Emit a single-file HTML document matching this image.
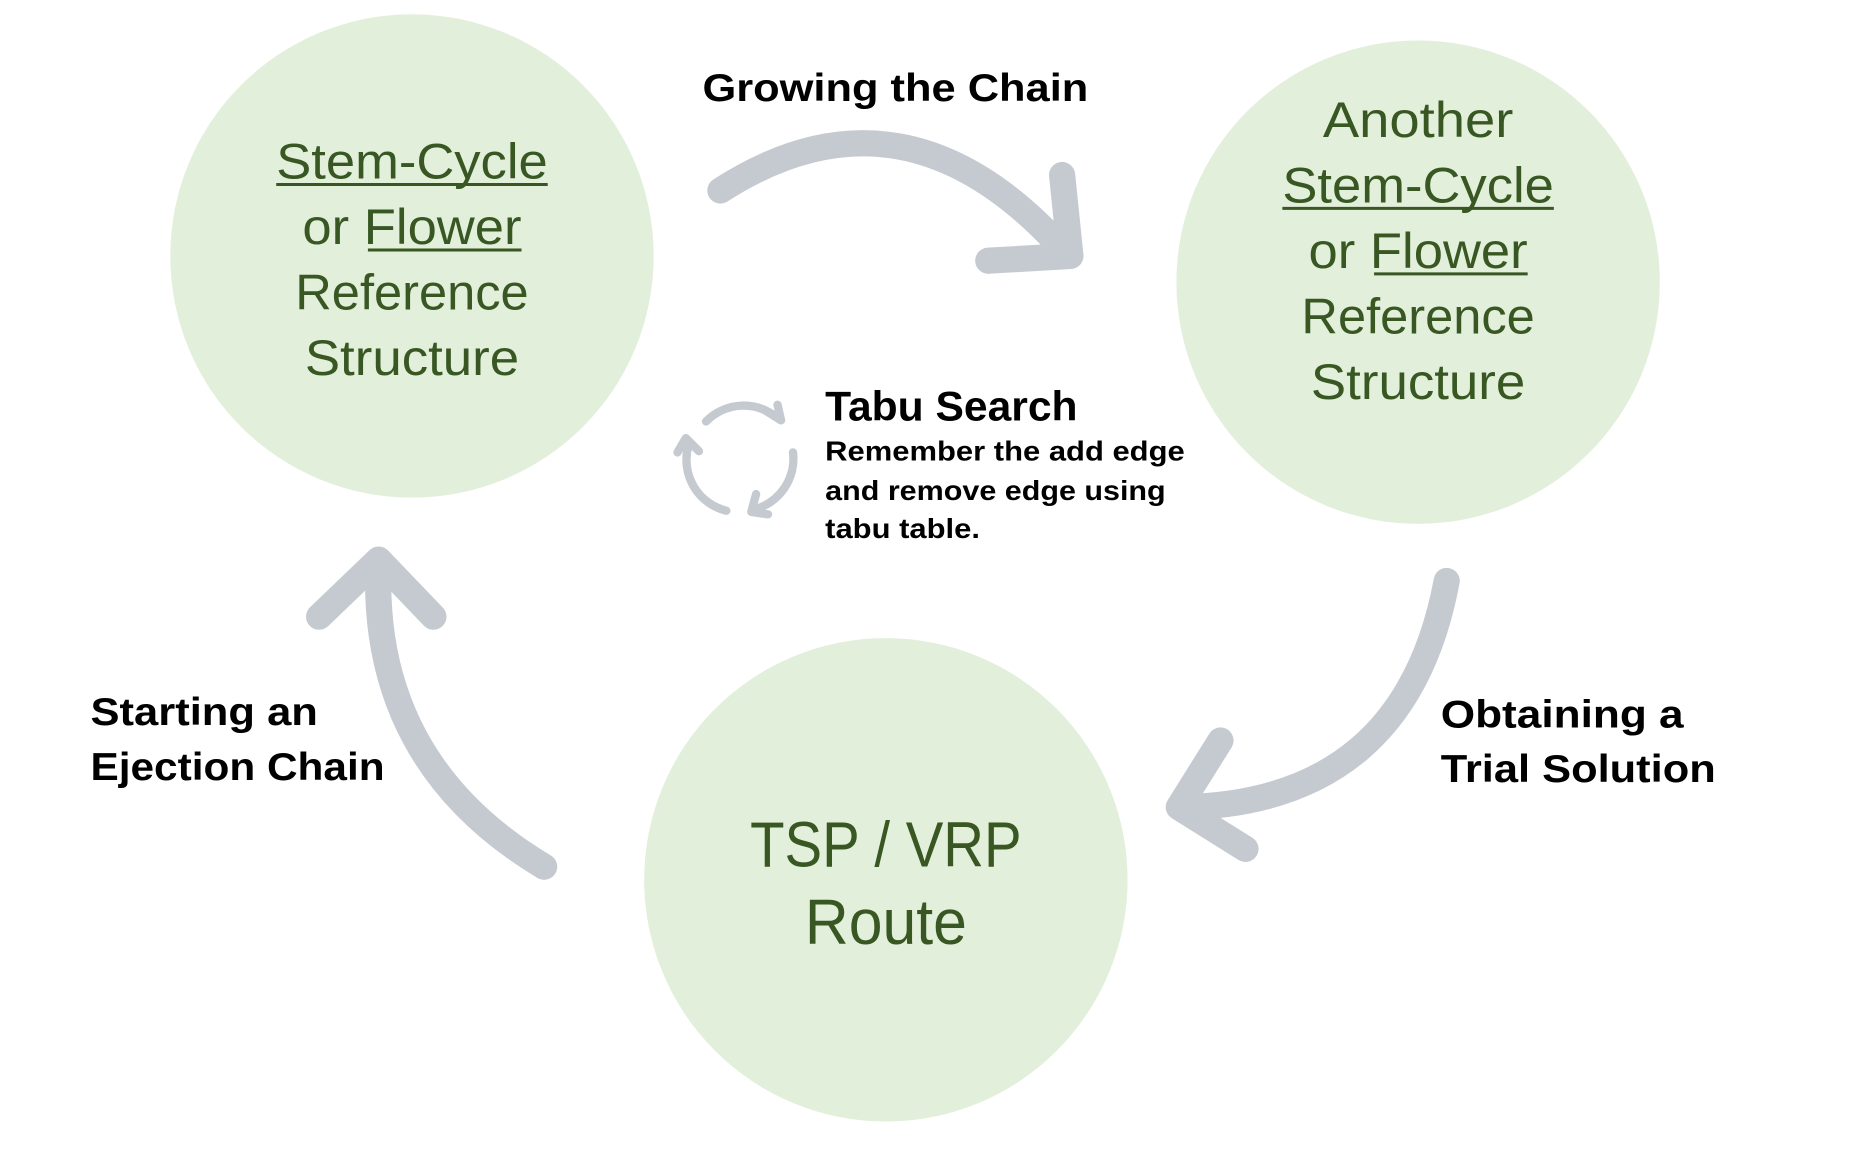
<!DOCTYPE html>
<html><head><meta charset="utf-8"><style>
html,body{margin:0;padding:0;background:#fff;}
svg{display:block}
.c{fill:#e2efda}
.g{font-family:"Liberation Sans","Noto Sans CJK SC",sans-serif;fill:#385723;font-size:42px;text-anchor:middle}
.b{font-family:"Liberation Sans","Noto Sans CJK SC",sans-serif;font-weight:bold;fill:#000}
.a{fill:none;stroke:#c5cad1;stroke-width:22;stroke-linecap:round;stroke-linejoin:round}
.i{fill:none;stroke:#c5cad1;stroke-width:7;stroke-linecap:round;stroke-linejoin:round}
.u{stroke:#385723;stroke-width:2.5}
</style></head><body>
<svg width="1867" height="1159" viewBox="0 0 1568 973.5" preserveAspectRatio="none" xmlns="http://www.w3.org/2000/svg">
<circle class="c" cx="346" cy="215" r="203"/>
<circle class="c" cx="1191" cy="237" r="203"/>
<circle class="c" cx="744" cy="739" r="203"/>

<text class="g" x="346" y="150" textLength="228" lengthAdjust="spacingAndGlyphs">Stem-Cycle</text>
<line class="u" x1="232" y1="155" x2="460" y2="155"/>
<text class="g" x="346" y="205" textLength="184" lengthAdjust="spacingAndGlyphs">or Flower</text>
<line class="u" x1="309" y1="210" x2="438" y2="210"/>
<text class="g" x="346" y="260" textLength="196" lengthAdjust="spacingAndGlyphs">Reference</text>
<text class="g" x="346" y="315" textLength="180" lengthAdjust="spacingAndGlyphs">Structure</text>

<text class="g" x="1191" y="115" textLength="160" lengthAdjust="spacingAndGlyphs">Another</text>
<text class="g" x="1191" y="170" textLength="228" lengthAdjust="spacingAndGlyphs">Stem-Cycle</text>
<line class="u" x1="1077" y1="175" x2="1305" y2="175"/>
<text class="g" x="1191" y="225" textLength="184" lengthAdjust="spacingAndGlyphs">or Flower</text>
<line class="u" x1="1154" y1="230" x2="1283" y2="230"/>
<text class="g" x="1191" y="280" textLength="196" lengthAdjust="spacingAndGlyphs">Reference</text>
<text class="g" x="1191" y="335" textLength="180" lengthAdjust="spacingAndGlyphs">Structure</text>

<text class="g" x="744" y="728" style="font-size:54px" textLength="228" lengthAdjust="spacingAndGlyphs">TSP / VRP</text>
<text class="g" x="744" y="793" style="font-size:54px" textLength="136" lengthAdjust="spacingAndGlyphs">Route</text>

<text class="b" x="590" y="85" font-size="33" textLength="324" lengthAdjust="spacingAndGlyphs">Growing the Chain</text>
<text class="b" x="693" y="353" font-size="35" textLength="212" lengthAdjust="spacingAndGlyphs">Tabu Search</text>
<text class="b" x="693" y="387" font-size="23" textLength="302" lengthAdjust="spacingAndGlyphs">Remember the add edge</text>
<text class="b" x="693" y="420" font-size="23" textLength="286" lengthAdjust="spacingAndGlyphs">and remove edge using</text>
<text class="b" x="693" y="452" font-size="23" textLength="130" lengthAdjust="spacingAndGlyphs">tabu table.</text>
<text class="b" x="76" y="609" font-size="33" textLength="191" lengthAdjust="spacingAndGlyphs">Starting an</text>
<text class="b" x="76" y="655" font-size="33" textLength="247" lengthAdjust="spacingAndGlyphs">Ejection Chain</text>
<text class="b" x="1210" y="611" font-size="33" textLength="204" lengthAdjust="spacingAndGlyphs">Obtaining a</text>
<text class="b" x="1210" y="657" font-size="33" textLength="231" lengthAdjust="spacingAndGlyphs">Trial Solution</text>

<path class="a" d="M605 160 Q760 60 895 212"/>
<path class="a" d="M892 147 L899 215 L830 219"/>
<path class="a" d="M1215 488 Q1180 675 992 678"/>
<path class="a" d="M1025 622 L990 678 L1046 713"/>
<path class="a" d="M457 728 Q310 640 318 472"/>
<path class="a" d="M268 518 L318 470 L364 518"/>

<path class="i" d="M593 354 A44 44 0 0 1 654 352"/>
<path class="i" d="M643 345 L656 353 L653 340"/>
<path class="i" d="M666 380 A44 44 0 0 1 633 428"/>
<path class="i" d="M635 415 L631 430 L645 432"/>
<path class="i" d="M610 429 A44 44 0 0 1 578 375"/>
<path class="i" d="M569 380 L576 368 L587 379"/>
</svg>
</body></html>
